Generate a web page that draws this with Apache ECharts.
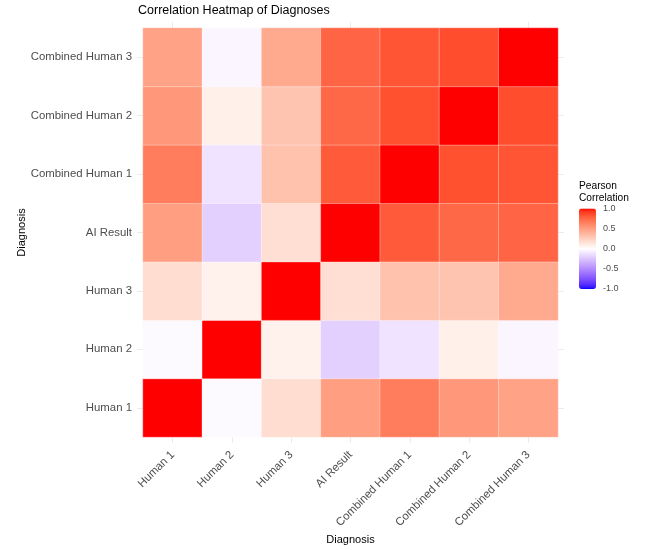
<!DOCTYPE html>
<html>
<head>
<meta charset="utf-8">
<script src="https://cdn.jsdelivr.net/npm/echarts@6/dist/echarts.min.js"></script>
<style>
html,body{margin:0;padding:0;background:#ffffff;}
#chart{width:669px;height:550px;}
</style>
</head>
<body>
<div id="chart"></div>
<script>
// Categories (x: left->right, y: bottom->top)
const categories = ["Human 1", "Human 2", "Human 3", "AI Result", "Combined Human 1", "Combined Human 2", "Combined Human 3"];

// Correlation rows (row label -> values against each category in the same order)
const rowHuman1 = [1.00, -0.02, 0.18, 0.50, 0.66, 0.53, 0.48];
const rowHuman2 = [-0.02, 1.00, 0.07, -0.20, -0.12, 0.08, -0.04];
const rowHuman3 = [0.18, 0.07, 1.00, 0.17, 0.32, 0.31, 0.44];
const rowAIResult = [0.50, -0.20, 0.17, 1.00, 0.80, 0.75, 0.76];
const rowCombined1 = [0.66, -0.12, 0.32, 0.80, 1.00, 0.84, 0.82];
const rowCombined2 = [0.53, 0.08, 0.31, 0.75, 0.84, 1.00, 0.85];
const rowCombined3 = [0.48, -0.04, 0.44, 0.76, 0.82, 0.85, 1.00];

const legendTicks = [-1.0, -0.5, 0.0, 0.5, 1.0];

const rows = [rowHuman1, rowHuman2, rowHuman3, rowAIResult, rowCombined1, rowCombined2, rowCombined3];
const heatData = [];
rows.forEach((r, yi) => r.forEach((v, xi) => heatData.push([xi, yi, v])));

// Lab-space gradient (blue - white - red), like a diverging ggplot scale
function labToRgb(L, a, b) {
  const fy = (L + 16) / 116, fx = fy + a / 500, fz = fy - b / 200;
  const finv = t => (t * t * t > 0.008856 ? t * t * t : (t - 16 / 116) / 7.787);
  const X = 0.95047 * finv(fx), Y = finv(fy), Z = 1.08883 * finv(fz);
  const r = 3.2406 * X - 1.5372 * Y - 0.4986 * Z;
  const g = -0.9689 * X + 1.8758 * Y + 0.0415 * Z;
  const bb = 0.0557 * X - 0.2040 * Y + 1.0570 * Z;
  const gam = c => { c = Math.max(0, Math.min(1, c)); return c <= 0.0031308 ? 12.92 * c : 1.055 * Math.pow(c, 1 / 2.4) - 0.055; };
  return 'rgb(' + [r, g, bb].map(c => Math.round(gam(c) * 255)).join(',') + ')';
}
const WHITE = [100, 0, 0], RED = [53.24, 80.09, 67.20], BLUE = [32.30, 79.19, -107.86];
function mix(p, q, t) { return [p[0] + (q[0] - p[0]) * t, p[1] + (q[1] - p[1]) * t, p[2] + (q[2] - p[2]) * t]; }
const colorStops = [];
for (let i = 0; i <= 80; i++) {
  const v = -1 + i / 40;
  const lab = v < 0 ? mix(WHITE, BLUE, -v) : mix(WHITE, RED, v);
  colorStops.push(labToRgb(lab[0], lab[1], lab[2]));
}

const FONT = 'Liberation Sans, Arial, Helvetica, sans-serif';
const GRIDC = '#EBEBEB';

const chart = echarts.init(document.getElementById('chart'), null, { renderer: 'canvas' });
chart.setOption({
  backgroundColor: '#ffffff',
  animation: false,
  textStyle: { fontFamily: FONT },
  title: {
    text: 'Correlation Heatmap of Diagnoses',
    left: 138, top: 4, padding: 0,
    textStyle: { fontFamily: FONT, fontSize: 12.5, fontWeight: 'normal', color: '#000000' }
  },
  grid: [
    { left: 143, top: 28, width: 415, height: 414, containLabel: false },
    { left: 579, top: 208.5, width: 17, height: 80.5, containLabel: false }
  ],
  xAxis: [
    {
      type: 'category', data: categories, gridIndex: 0, position: 'bottom',
      name: 'Diagnosis', nameLocation: 'middle', nameGap: 97, nameMoveOverlap: false,
      nameTextStyle: { fontFamily: FONT, fontSize: 11, color: '#000000' },
      axisLine: { show: false },
      axisTick: { show: true, alignWithLabel: true, length: 6, lineStyle: { color: GRIDC, width: 1 } },
      axisLabel: { rotate: 45, fontFamily: FONT, fontSize: 11.4, color: '#4D4D4D', margin: 16, interval: 0 },
      splitLine: { show: false }
    },
    {
      type: 'category', data: categories, gridIndex: 0, position: 'top',
      axisLine: { show: false },
      axisTick: { show: true, alignWithLabel: true, length: 6, lineStyle: { color: GRIDC, width: 1 } },
      axisLabel: { show: false }, splitLine: { show: false }
    },
    { type: 'value', gridIndex: 1, min: 0, max: 1, show: false }
  ],
  yAxis: [
    {
      type: 'category', data: categories, gridIndex: 0, position: 'left',
      name: 'Diagnosis', nameLocation: 'middle', nameGap: 116, nameRotate: 90, nameMoveOverlap: false,
      nameTextStyle: { fontFamily: FONT, fontSize: 11, color: '#000000' },
      axisLine: { show: false },
      axisTick: { show: true, alignWithLabel: true, length: 6, lineStyle: { color: GRIDC, width: 1 } },
      axisLabel: { fontFamily: FONT, fontSize: 11.4, color: '#4D4D4D', margin: 11, interval: 0 },
      splitLine: { show: false }
    },
    {
      type: 'category', data: categories, gridIndex: 0, position: 'right',
      axisLine: { show: false },
      axisTick: { show: true, alignWithLabel: true, length: 6, lineStyle: { color: GRIDC, width: 1 } },
      axisLabel: { show: false }, splitLine: { show: false }
    },
    {
      type: 'value', gridIndex: 1, min: -1, max: 1, interval: 0.5, position: 'right',
      axisLine: { show: false }, splitLine: { show: false },
      axisTick: { show: true, inside: true, length: 3, lineStyle: { color: '#ffffff', width: 1 } },
      axisLabel: { fontFamily: FONT, fontSize: 9, color: '#4D4D4D', margin: 7,
        customValues: legendTicks, formatter: v => Number(v).toFixed(1) }
    },
    {
      type: 'value', gridIndex: 1, min: -1, max: 1, interval: 0.5, position: 'left',
      axisLine: { show: false }, splitLine: { show: false },
      axisTick: { show: true, inside: true, length: 3, lineStyle: { color: '#ffffff', width: 1 } },
      axisLabel: { show: false }
    }
  ],
  visualMap: {
    type: 'continuous', min: -1, max: 1, seriesIndex: 0,
    show: true, calculable: false, orient: 'vertical',
    left: 579, top: 208.5, itemWidth: 17, itemHeight: 80.5, padding: 0,
    text: null, showLabel: false, hoverLink: false,
    inRange: { color: colorStops }
  },
  graphic: [
    { type: 'text', left: 579, top: 180.5, z: 10,
      style: { text: 'Pearson\nCorrelation', fontFamily: FONT, fontSize: 10.2, lineHeight: 11.5, fill: '#000000' } }
  ],
  series: [{
    type: 'heatmap', xAxisIndex: 0, yAxisIndex: 0, data: heatData,
    itemStyle: { borderColor: 'rgba(255,255,255,0.55)', borderWidth: 0.6 },
    emphasis: { disabled: true }, label: { show: false }
  }]
});
</script>
</body>
</html>
